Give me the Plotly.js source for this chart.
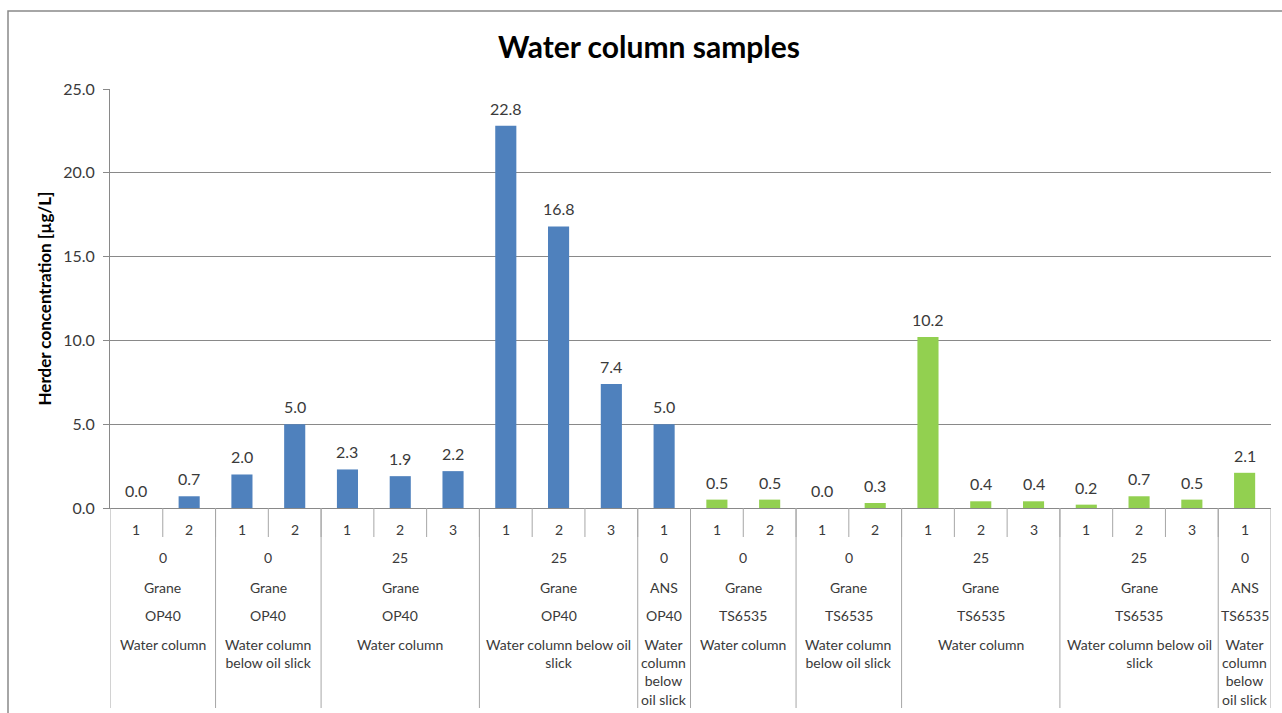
<!DOCTYPE html>
<html>
<head>
<meta charset="utf-8">
<script src="https://cdn.plot.ly/plotly-3.0.1.min.js"></script>
<style>html,body{margin:0;padding:0;background:#fff;}#chart{width:1282px;height:713px;}</style>
</head>
<body>
<div id="chart"></div>
<script>
// ---- data ----
const replicate = ['1','2','1','2','1','2','3','1','2','3','1','1','2','1','2','1','2','3','1','2','3','1'];
const concentration = [0.0,0.7,2.0,5.0,2.3,1.9,2.2,22.8,16.8,7.4,5.0,0.5,0.5,0.0,0.3,10.2,0.4,0.4,0.2,0.7,0.5,2.1];
const groupSize = [2,2,3,3,1,2,2,3,3,1];
const groupTime = ['0','0','25','25','0','0','0','25','25','0'];
const groupOil = ['Grane','Grane','Grane','Grane','ANS','Grane','Grane','Grane','Grane','ANS'];
const groupHerder = ['OP40','OP40','OP40','OP40','OP40','TS6535','TS6535','TS6535','TS6535','TS6535'];
const groupSample = ['Water column','Water column<br>below oil slick','Water column','Water column below oil<br>slick','Water<br>column<br>below<br>oil slick',
                     'Water column','Water column<br>below oil slick','Water column','Water column below oil<br>slick','Water<br>column<br>below<br>oil slick'];
const herderColors = {'OP40':'#4F81BD','TS6535':'#92D050'};
const yTicks = [0,5,10,15,20,25];

// ---- layout constants ----
const FONT = 'Lato, "Open Sans", sans-serif';
const M = {l:110, r:11, t:89, b:205};
const plotH = 713 - M.t - M.b;
const plotW = 1282 - M.l - M.r;
const GRAY = '#898989';
const SEP = '#A6A6A6';
const TXT = '#3a3a3a';

// per-bar herder (from groups)
const barHerder = [];
const groupStart = [];
let s = 0;
groupSize.forEach((n, g) => { groupStart.push(s); for (let k = 0; k < n; k++) barHerder.push(groupHerder[g]); s += n; });
const xIdx = concentration.map((_, i) => i);

const trace = {
  type: 'bar',
  x: xIdx,
  y: concentration,
  marker: {color: barHerder.map(h => herderColors[h])},
  hoverinfo: 'y',
  showlegend: false
};

const annotations = [];
// value labels
concentration.forEach((v, i) => {
  annotations.push({x: i, y: v, xref: 'x', yref: 'y', text: v.toFixed(1), showarrow: false,
    yanchor: 'bottom', yshift: 6, font: {family: FONT, size: 16, color: TXT}});
});
// replicate labels
replicate.forEach((r, i) => {
  annotations.push({x: i, y: 0, xref: 'x', yref: 'paper', text: r, showarrow: false,
    yanchor: 'middle', yshift: -21, font: {family: FONT, size: 14, color: TXT}});
});
// group labels
const rows = [[groupTime, 49], [groupOil, 79], [groupHerder, 107]];
groupSize.forEach((n, g) => {
  const c = groupStart[g] + (n - 1) / 2;
  rows.forEach(([arr, off]) => {
    annotations.push({x: c, y: 0, xref: 'x', yref: 'paper', text: arr[g], showarrow: false,
      yanchor: 'middle', yshift: -off, font: {family: FONT, size: 14, color: TXT}});
  });
  annotations.push({x: c, y: 0, xref: 'x', yref: 'paper', text: groupSample[g], showarrow: false,
    yanchor: 'top', yshift: -126, align: 'center', font: {family: FONT, size: 14, color: TXT}});
});
// y title
annotations.push({x: (44 - M.l) / plotW, y: 0.5, xref: 'paper', yref: 'paper', text: '<b>Herder concentration [µg/L]</b>',
  textangle: -90, showarrow: false, xanchor: 'center', yanchor: 'middle', font: {family: FONT, size: 17, color: '#000'}});

const shapes = [];
// separators between replicates
replicate.forEach((_, i) => {
  if (i > 0) shapes.push({type: 'line', xref: 'x', yref: 'paper', x0: i - 0.5, x1: i - 0.5, y0: 0, y1: -29 / plotH,
    line: {color: SEP, width: 1}});
});
// group separators
groupStart.concat([concentration.length]).forEach(st => {
  shapes.push({type: 'line', xref: 'x', yref: 'paper', x0: st - 0.5, x1: st - 0.5, y0: 0, y1: -200 / plotH,
    line: {color: SEP, width: 1}});
});
// outer chart border
shapes.push({type: 'rect', xref: 'paper', yref: 'paper', x0: (8 - M.l) / plotW, x1: 1.05, y0: -0.6, y1: (plotH + M.t - 11) / plotH,
  line: {color: GRAY, width: 1.5}, fillcolor: 'rgba(0,0,0,0)'});

const layout = {
  width: 1282, height: 713,
  margin: M,
  paper_bgcolor: '#fff', plot_bgcolor: '#fff',
  title: {text: '<b>Water column samples</b>', x: 649 / 1282, xref: 'container', xanchor: 'center',
    y: 1 - 47 / 713, yref: 'container', yanchor: 'middle', font: {family: FONT, size: 30, color: '#000'}},
  bargap: 0.6,
  xaxis: {range: [-0.5, concentration.length - 0.5], showticklabels: false, ticks: '', showgrid: false,
    zeroline: false, showline: true, linecolor: GRAY, linewidth: 1, fixedrange: true},
  yaxis: {range: [0, 25], tickvals: yTicks, tickformat: '.1f', ticks: 'outside', ticklen: 6, tickcolor: GRAY,
    showline: true, linecolor: GRAY, linewidth: 1, showgrid: true, gridcolor: GRAY, gridwidth: 1, zeroline: false,
    ticklabelstandoff: 5, tickfont: {family: FONT, size: 16, color: TXT}, fixedrange: true},
  annotations: annotations,
  shapes: shapes
};

Plotly.newPlot('chart', [trace], layout, {displayModeBar: false, staticPlot: true});
</script>
</body>
</html>
